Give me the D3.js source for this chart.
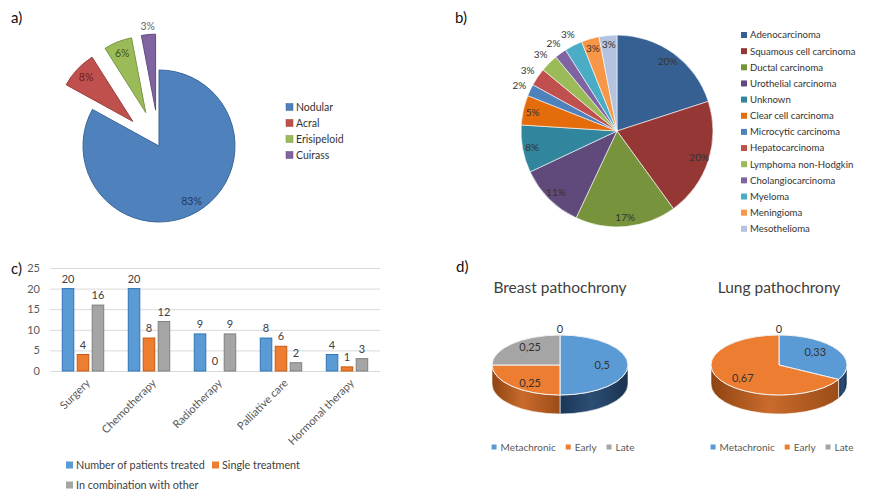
<!DOCTYPE html>
<html>
<head>
<meta charset="utf-8">
<script src="https://cdn.jsdelivr.net/npm/d3@7"></script>
<style>
  body { margin: 0; background: #fff; }
  svg { display: block; font-family: Lato, "Open Sans", sans-serif; }
</style>
</head>
<body>
<svg id="chart" width="872" height="493"></svg>
<script>
// a) clinical forms
const formNames = ["Nodular", "Acral", "Erisipeloid", "Cuirass"];
const formValues = [83, 8, 6, 3];

// b) primary tumour histology
const histNames = ["Adenocarcinoma", "Squamous cell carcinoma", "Ductal carcinoma", "Urothelial carcinoma",
  "Unknown", "Clear cell carcinoma", "Microcytic carcinoma", "Hepatocarcinoma", "Lymphoma non-Hodgkin",
  "Cholangiocarcinoma", "Myeloma", "Meningioma", "Mesothelioma"];
const histValues = [20, 20, 17, 11, 8, 5, 2, 3, 3, 2, 3, 3, 3];

// c) treatment
const treatNames = ["Surgery", "Chemotherapy", "Radiotherapy", "Palliative care", "Hormonal therapy"];
const treatSeries = ["Number of patients treated", "Single treatment", "In combination with other"];
const treatedValues = [20, 20, 9, 8, 4];
const singleValues = [4, 8, 0, 6, 1];
const comboValues = [16, 12, 9, 2, 3];
const yTicks = [0, 5, 10, 15, 20, 25];

// d) pathochrony
const pathoNames = ["Metachronic", "Early", "Late"];
const breastValues = [0.5, 0.25, 0.25, 0];
const lungValues = [0.33, 0.67, 0];

const svg = d3.select('#chart');
svg.append('rect').attr('width', 872).attr('height', 493).attr('fill', '#fff');
const defs = svg.append('defs');

function panelLabel(t, x, y) {
    svg.append('text').attr('x', x).attr('y', y)
        .attr('font-size', 15).attr('fill', '#111').text(t);
}
panelLabel('a)', 11, 23);
panelLabel('b)', 455, 23);
panelLabel('c)', 11, 274);
panelLabel('d)', 456, 272);

// ---------- a) exploded pie
const aColors = ['#4F81BD', '#C0504D', '#9BBB59', '#8064A2'];
const aStroke = ['#3B6798', '#9A3C3A', '#7A9444', '#624C80'];
const aText = ['#1F3A5F', '#6E1F1D', '#3E5217', '#666'];
const ga = svg.append('g').attr('transform', 'translate(159,146)');
const arcA = d3.arc().innerRadius(0).outerRadius(76);
d3.pie().sort(null)(formValues).forEach((d, i) => {
    const mid = (d.startAngle + d.endAngle) / 2;
    const off = i === 0 ? 0 : 36;
    const g = ga.append('g')
        .attr('transform', `translate(${Math.sin(mid) * off},${-Math.cos(mid) * off})`);
    g.append('path').attr('d', arcA(d))
        .attr('fill', aColors[i]).attr('stroke', aStroke[i]).attr('stroke-width', 1);
    const lr = d.data < 5 ? 84 : 64;
    g.append('text')
        .attr('x', Math.sin(mid) * lr).attr('y', -Math.cos(mid) * lr)
        .attr('dy', '0.35em').attr('text-anchor', 'middle')
        .attr('font-size', 10.5).attr('fill', aText[i])
        .text(d.data + '%');
});
// legend a
formNames.forEach((n, i) => {
    const y = 107 + i * 16;
    svg.append('rect').attr('x', 286).attr('y', y - 3.5).attr('width', 7).attr('height', 7)
        .attr('fill', aColors[i]).attr('stroke', aStroke[i]).attr('stroke-width', 0.5);
    svg.append('text').attr('x', 296).attr('y', y).attr('dy', '0.35em')
        .attr('font-size', 10.5).attr('fill', '#333').text(n);
});

// ---------- b) pie
const bColors = ['#376092', '#953735', '#77933C', '#604A7B', '#31859C', '#E46C0A',
    '#4F81BD', '#C0504D', '#9BBB59', '#8064A2', '#4BACC6', '#F79646', '#B3C3E0'];
const gb = svg.append('g').attr('transform', 'translate(617,131)');
const rB = 96;
const arcB = d3.arc().innerRadius(0).outerRadius(rB);
d3.pie().sort(null)(histValues).forEach((d, i) => {
    gb.append('path').attr('d', arcB(d))
        .attr('fill', bColors[i]).attr('stroke', '#fff').attr('stroke-width', 0.6);
    const mid = (d.startAngle + d.endAngle) / 2;
    const outside = i >= 6 && i <= 10;
    const lr = outside ? rB + 12 : rB * 0.9;
    gb.append('text')
        .attr('x', Math.sin(mid) * lr).attr('y', -Math.cos(mid) * lr)
        .attr('dy', '0.35em').attr('text-anchor', 'middle')
        .attr('font-size', 10).attr('fill', '#333')
        .text(d.data + '%');
});
histNames.forEach((n, i) => {
    const y = 35 + i * 16.15;
    svg.append('rect').attr('x', 741).attr('y', y - 3).attr('width', 6).attr('height', 6)
        .attr('fill', bColors[i]);
    svg.append('text').attr('x', 750).attr('y', y).attr('dy', '0.35em')
        .attr('font-size', 9.6).attr('fill', '#333').text(n);
});

// ---------- c) grouped bars
const cColors = ['#5B9BD5', '#ED7D31', '#A5A5A5'];
const cStroke = ['#2E75B6', '#C55A11', '#7F7F7F'];
const seriesVals = [treatedValues, singleValues, comboValues];
const x0 = d3.scaleBand().domain(treatNames).range([50, 380]);
const x1 = d3.scaleBand().domain(treatSeries).range([0, x0.bandwidth()])
    .paddingInner(0.23).paddingOuter(0.82);
const y = d3.scaleLinear().domain([0, 25]).range([371, 268]);

const gy = svg.append('g').attr('transform', 'translate(50,0)')
    .call(d3.axisLeft(y).tickValues(yTicks).tickSize(-330).tickPadding(10));
gy.select('.domain').remove();
gy.selectAll('.tick line').attr('stroke', '#D9D9D9');
gy.selectAll('.tick text').attr('font-size', 11).attr('fill', '#595959')
    .attr('font-family', 'Lato, sans-serif');

treatNames.forEach((t, gi) => {
    treatSeries.forEach((s, si) => {
        const v = seriesVals[si][gi];
        const bx = x0(t) + x1(s);
        if (v > 0) {
            svg.append('rect').attr('x', bx).attr('y', y(v))
                .attr('width', x1.bandwidth()).attr('height', y(0) - y(v))
                .attr('fill', cColors[si]).attr('stroke', cStroke[si]).attr('stroke-width', 1);
        }
        svg.append('text').attr('x', bx + x1.bandwidth() / 2).attr('y', y(v) - 6)
            .attr('text-anchor', 'middle').attr('font-size', 11).attr('fill', '#404040')
            .text(v);
    });
    const cx = x0(t) + x0.bandwidth() / 2;
    svg.append('text')
        .attr('transform', `translate(${cx + 5},${381}) rotate(-45)`)
        .attr('text-anchor', 'end').attr('dy', '0.35em')
        .attr('font-size', 11).attr('fill', '#595959').text(t);
});
// legend c
[[66, 465], [212, 465], [66, 485]].forEach((p, i) => {
    svg.append('rect').attr('x', p[0]).attr('y', p[1] - 3.5).attr('width', 7).attr('height', 7)
        .attr('fill', cColors[i]);
    svg.append('text').attr('x', p[0] + 10).attr('y', p[1]).attr('dy', '0.35em')
        .attr('font-size', 10.8).attr('fill', '#404040').text(treatSeries[i]);
});

// ---------- d) 3D pies
const dColors = ['#5B9BD5', '#ED7D31', '#A5A5A5'];
const dSides = [['#1B3656', '#2C4E74', '#1A3350'], ['#8E4412', '#C96B2C', '#9C4C18'], ['#6B6B6B', '#8F8F8F', '#666']];
dSides.forEach((c, i) => {
    const lg = defs.append('linearGradient').attr('id', 'side' + i)
        .attr('x1', 0).attr('x2', 1).attr('y1', 0).attr('y2', 0);
    lg.append('stop').attr('offset', '0%').attr('stop-color', c[0]);
    lg.append('stop').attr('offset', '45%').attr('stop-color', c[1]);
    lg.append('stop').attr('offset', '100%').attr('stop-color', c[2]);
});

function pie3d(cx, cy, values, title) {
    const rx = 68, ry = 30, depth = 19;
    const pt = (a, dz) => [cx + rx * Math.sin(a), cy - ry * Math.cos(a) + (dz || 0)];
    const slices = d3.pie().sort(null)(values);
    const g = svg.append('g');

    svg.append('text').attr('x', cx).attr('y', 293).attr('text-anchor', 'middle')
        .attr('font-size', 15.5).attr('fill', '#404040').text(title);

    // side walls (front half only)
    slices.forEach((d, i) => {
        const s = Math.max(d.startAngle, Math.PI / 2), e = Math.min(d.endAngle, 3 * Math.PI / 2);
        if (e <= s) return;
        const p0 = pt(s), p1 = pt(e), q1 = pt(e, depth), q0 = pt(s, depth);
        g.append('path')
            .attr('d', `M${p0}A${rx},${ry} 0 0 1 ${p1}L${q1}A${rx},${ry} 0 0 0 ${q0}Z`)
            .attr('fill', `url(#side${i % 3})`).attr('stroke', '#fff').attr('stroke-width', 0.6);
    });
    // top faces
    slices.forEach((d, i) => {
        if (d.endAngle - d.startAngle <= 0) return;
        const p0 = pt(d.startAngle), p1 = pt(d.endAngle);
        const large = d.endAngle - d.startAngle > Math.PI ? 1 : 0;
        g.append('path')
            .attr('d', `M${cx},${cy}L${p0}A${rx},${ry} 0 ${large} 1 ${p1}Z`)
            .attr('fill', dColors[i % 3]).attr('stroke', '#F2F2F2').attr('stroke-width', 1);
    });
    // labels
    slices.forEach((d, i) => {
        const mid = (d.startAngle + d.endAngle) / 2;
        let lx, ly;
        if (d.data === 0) {
            lx = cx + rx * 1.2 * Math.sin(mid); ly = cy - ry * 1.2 * Math.cos(mid);
        } else {
            lx = cx + rx * 0.62 * Math.sin(mid); ly = cy - ry * 0.85 * Math.cos(mid);
        }
        g.append('text').attr('x', lx).attr('y', ly).attr('dy', '0.35em')
            .attr('text-anchor', 'middle').attr('font-size', 11).attr('fill', '#333')
            .text(String(d.data).replace('.', ','));
    });
    // legend
    const lgd = svg.append('g');
    let xx = 0;
    pathoNames.forEach((n, i) => {
        lgd.append('rect').attr('x', xx).attr('y', 447 - 2.5).attr('width', 5).attr('height', 5)
            .attr('fill', dColors[i]);
        const t = lgd.append('text').attr('x', xx + 9).attr('y', 447).attr('dy', '0.35em')
            .attr('font-size', 10).attr('fill', '#595959').text(n);
        xx += 9 + t.node().getComputedTextLength() + 10;
    });
    lgd.attr('transform', `translate(${cx + 3 - (xx - 10) / 2},0)`);
}
pie3d(560, 365, breastValues, 'Breast pathochrony');
pie3d(779, 365, lungValues, 'Lung pathochrony');
</script>
</body>
</html>
